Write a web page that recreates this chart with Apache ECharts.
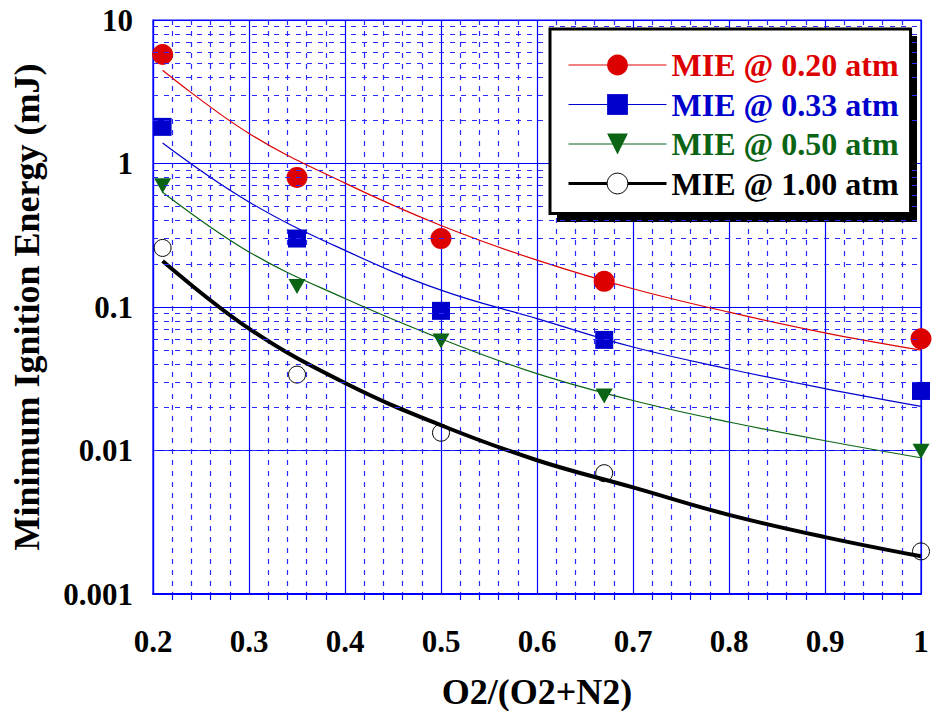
<!DOCTYPE html>
<html>
<head>
<meta charset="utf-8">
<script src="https://cdn.jsdelivr.net/npm/echarts@6/dist/echarts.min.js"></script>
<style>
  html, body { margin: 0; padding: 0; background: #fff; }
  #chart { width: 935px; height: 711px; }
</style>
</head>
<body>
<div id="chart"></div>
<script>
// measured points
const xData = [0.21, 0.35, 0.5, 0.67, 1.0];
const mie020 = [5.75, 0.80, 0.30, 0.151, 0.060];
const mie033 = [1.80, 0.30, 0.094, 0.059, 0.026];
const mie050 = [0.70, 0.139, 0.058, 0.024, 0.0099];
const mie100 = [0.258, 0.0338, 0.0133, 0.00695, 0.00198];

// fitted curves
const fitX = [0.21, 0.3, 0.4, 0.5, 0.6, 0.7, 0.8, 0.9, 1.0];
const fit020 = [4.47, 1.62, 0.73, 0.37, 0.212, 0.134, 0.092, 0.066, 0.050];
const fit033 = [1.39, 0.54, 0.248, 0.131, 0.083, 0.0526, 0.037, 0.027, 0.0203];
const fit050 = [0.63, 0.242, 0.1145, 0.060, 0.0343, 0.0223, 0.0158, 0.0117, 0.0089];
const fit100 = [0.209, 0.0707, 0.0295, 0.015, 0.00855, 0.00553, 0.00356, 0.00249, 0.00183];

const names = ['MIE @ 0.20 atm', 'MIE @ 0.33 atm', 'MIE @ 0.50 atm', 'MIE @ 1.00 atm'];
const colors = ['#dd0000', '#0000cc', '#0a6414', '#000000'];

// dashed minor grid lines of the log axis (2..9 in each decade)
const decades = [0.001, 0.01, 0.1, 1];
const steps = [2, 3, 4, 5, 6, 7, 8, 9];
const minorY = [];
decades.forEach(d => steps.forEach(s => minorY.push(+(d * s).toPrecision(3))));

const font = 'Liberation Serif';
const gridBlue = '#0000ff';
const minorBlue = '#2a2aff';

function pairs(xs, ys) {
    return xs.map((x, i) => [x, ys[i]]);
}

let chart = echarts.init(document.getElementById('chart'), null, { renderer: 'svg' });

let option = {
    animation: false,
    backgroundColor: '#fff',
    grid: {
        left: 153, right: 14, top: 20, bottom: 117,
        outerBoundsMode: 'none', containLabel: false,
        show: true, borderColor: gridBlue, borderWidth: 1.2
    },
    // drop shadow of the legend box
    graphic: [{
        type: 'rect', z: 3, silent: true,
        shape: { x: 557, y: 36, width: 360, height: 186 },
        style: { fill: '#000' }
    }],
    xAxis: {
        type: 'value', min: 0.2, max: 1.0, interval: 0.1,
        name: 'O2/(O2+N2)', nameLocation: 'middle', nameGap: 80,
        nameTextStyle: { fontFamily: font, fontWeight: 'bold', fontSize: 36, color: '#000' },
        axisLine: { show: true, lineStyle: { color: gridBlue, width: 2 } },
        axisTick: { show: false },
        minorTick: { show: true, splitNumber: 5, length: 6, lineStyle: { color: gridBlue, width: 1.2 } },
        axisLabel: {
            fontFamily: font, fontWeight: 'bold', fontSize: 31, color: '#000', margin: 32,
            formatter: v => String(+v.toFixed(1))
        },
        splitLine: { show: true, lineStyle: { color: gridBlue, width: 1.2 } },
        minorSplitLine: { show: true, lineStyle: { color: minorBlue, type: [5, 6], width: 1.2 } }
    },
    yAxis: {
        type: 'log', logBase: 10, min: 0.001, max: 10,
        name: 'Minimum Ignition Energy (mJ)', nameLocation: 'middle', nameGap: 108, nameRotate: 90,
        nameTextStyle: { fontFamily: font, fontWeight: 'bold', fontSize: 36, color: '#000' },
        axisLine: { show: true, lineStyle: { color: gridBlue, width: 1.2 } },
        axisTick: { show: false },
        axisLabel: {
            fontFamily: font, fontWeight: 'bold', fontSize: 31, color: '#000', margin: 20,
            padding: [10, 0, 0, 0],
            formatter: v => String(+v.toPrecision(1))
        },
        splitLine: { show: true, lineStyle: { color: gridBlue, width: 1.2 } }
    },
    legend: {
        orient: 'vertical',
        left: 550, top: 29, z: 10,
        padding: [20, 12, 14, 17],
        itemWidth: 98, itemHeight: 26, itemGap: 7.5,
        backgroundColor: '#fff',
        borderColor: '#000', borderWidth: 3,
        textStyle: { fontFamily: font, fontWeight: 'bold', fontSize: 32 },
        data: names.map((n, i) => ({
            name: n,
            textStyle: { color: colors[i] },
            lineStyle: { opacity: 1, width: i === 3 ? 3 : 1, color: colors[i] },
            itemStyle: i === 3 ? { color: '#fff', borderColor: '#000', borderWidth: 1 } : undefined
        }))
    },
    series: [
        {
            name: 'grid', type: 'line', data: [[0.2, 1]], symbol: 'none', z: 1,
            lineStyle: { opacity: 0 },
            markLine: {
                silent: true, symbol: 'none', label: { show: false },
                lineStyle: { color: minorBlue, type: [5, 6], width: 1.2 },
                data: minorY.map(v => ({ yAxis: v }))
            }
        },
        { name: 'fit 0.20', type: 'line', data: pairs(fitX, fit020), smooth: 0.4, symbol: 'none', z: 3,
          lineStyle: { color: colors[0], width: 1.2 } },
        { name: 'fit 0.33', type: 'line', data: pairs(fitX, fit033), smooth: 0.4, symbol: 'none', z: 3,
          lineStyle: { color: colors[1], width: 1.2 } },
        { name: 'fit 0.50', type: 'line', data: pairs(fitX, fit050), smooth: 0.4, symbol: 'none', z: 3,
          lineStyle: { color: colors[2], width: 1.2 } },
        { name: 'fit 1.00', type: 'line', data: pairs(fitX, fit100), smooth: 0.4, symbol: 'none', z: 3,
          lineStyle: { color: colors[3], width: 4 } },
        { name: names[0], type: 'line', data: pairs(xData, mie020), symbol: 'circle', symbolSize: 21, z: 4,
          lineStyle: { opacity: 0 }, itemStyle: { color: colors[0] } },
        { name: names[1], type: 'line', data: pairs(xData, mie033), symbol: 'rect', symbolSize: 18, z: 4,
          lineStyle: { opacity: 0 }, itemStyle: { color: colors[1] } },
        { name: names[2], type: 'line', data: pairs(xData, mie050), symbol: 'triangle', symbolRotate: 180,
          symbolSize: [17, 15], z: 4, lineStyle: { opacity: 0 }, itemStyle: { color: colors[2] } },
        { name: names[3], type: 'line', data: pairs(xData, mie100), symbol: 'circle', symbolSize: 17, z: 4,
          lineStyle: { opacity: 0 },
          itemStyle: { color: 'rgba(0,0,0,0)', borderColor: '#000', borderWidth: 1 } }
    ]
};

chart.setOption(option);
</script>
</body>
</html>
